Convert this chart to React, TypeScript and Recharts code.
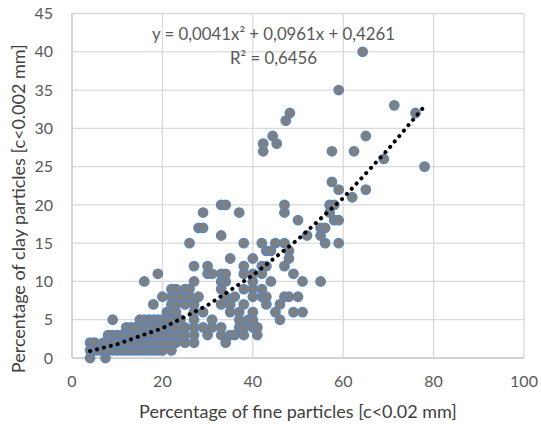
import React from "react";
import { ScatterChart, Scatter, XAxis, YAxis, CartesianGrid, Label } from "recharts";

// Fine-particle percentages, one list per clay percentage
const fineAtClay0 = [4, 7.4];
const fineAtClay1 = [4, 5, 6, 7, 8, 9, 10, 11, 12, 13, 14, 15, 16, 17, 18, 19, 20, 22];
const fineAtClay2 = [4, 5, 7, 8, 9, 10, 11, 12, 13, 14, 15, 16, 17, 18, 19, 20, 21, 23, 25, 27, 34];
const fineAtClay3 = [8, 9, 10, 11, 12, 13, 14, 15, 16, 17, 18, 19, 20, 21, 22, 23, 24, 25, 27, 30, 33, 35, 36, 38, 41];
const fineAtClay4 = [12, 13, 14, 16, 17, 18, 19, 20, 22, 23, 25, 27, 29, 31, 33, 37, 38, 40, 41];
const fineAtClay5 = [9, 15, 16, 17, 18, 19, 20, 21, 23, 24, 27, 31, 37, 39, 40, 46];
const fineAtClay6 = [21, 22, 23, 27, 29, 35, 37, 40, 45, 49, 51];
const fineAtClay7 = [18, 22, 23, 25, 27, 33, 35, 38, 43, 46];
const fineAtClay8 = [20, 22, 24, 26, 28, 34, 36, 40, 42, 43, 47, 48, 50];
const fineAtClay9 = [22, 23, 25, 26, 33, 38, 40, 42];
const fineAtClay10 = [16, 27, 33, 34, 40, 44, 51, 55];
const fineAtClay11 = [19, 30, 31, 33, 34, 38, 40, 42, 49];
const fineAtClay12 = [27, 30, 38, 42, 43, 47];
const fineAtClay13 = [35, 40, 48];
const fineAtClay14 = [43, 44, 48];
const fineAtClay15 = [26, 38, 42, 45, 47, 56, 59];
const fineAtClay16 = [33, 52, 55];
const fineAtClay17 = [28, 29, 55, 56];
const fineAtClay18 = [50, 58, 59];
const fineAtClay19 = [29, 37, 47, 57];
const fineAtClay20 = [33, 34, 47, 57, 58];
const fineAtClay21 = [62];
const fineAtClay22 = [59, 65];
const fineAtClay23 = [57.5];
const fineAtClay25 = [78];
const fineAtClay26 = [69];
const fineAtClay27 = [42.3, 57.5, 62.4];
const fineAtClay28 = [42.3, 45.3];
const fineAtClay29 = [44.4, 65];
const fineAtClay31 = [47.3];
const fineAtClay32 = [48.2, 76];
const fineAtClay33 = [71.3];
const fineAtClay35 = [59];
const fineAtClay40 = [64.3];

const bands: [number, number[]][] = [
  [0, fineAtClay0], [1, fineAtClay1], [2, fineAtClay2], [3, fineAtClay3], [4, fineAtClay4],
  [5, fineAtClay5], [6, fineAtClay6], [7, fineAtClay7], [8, fineAtClay8], [9, fineAtClay9],
  [10, fineAtClay10], [11, fineAtClay11], [12, fineAtClay12], [13, fineAtClay13], [14, fineAtClay14],
  [15, fineAtClay15], [16, fineAtClay16], [17, fineAtClay17], [18, fineAtClay18], [19, fineAtClay19],
  [20, fineAtClay20], [21, fineAtClay21], [22, fineAtClay22], [23, fineAtClay23], [25, fineAtClay25],
  [26, fineAtClay26], [27, fineAtClay27], [28, fineAtClay28], [29, fineAtClay29], [31, fineAtClay31],
  [32, fineAtClay32], [33, fineAtClay33], [35, fineAtClay35], [40, fineAtClay40],
];
const points = bands.flatMap(([y, xs]) => xs.map((x) => ({ x, y })));

// Trend line
const trendFine = [4, 10, 20, 30, 40, 50, 60, 70, 78];
const trendClay = [0.9, 1.8, 3.9, 6.9, 10.8, 15.5, 20.9, 27.3, 32.9];
const trend = trendFine.map((x, i) => ({ x, y: trendClay[i] }));

const xTicks = [0, 20, 40, 60, 80, 100];
const yTicks = [0, 5, 10, 15, 20, 25, 30, 35, 40, 45];
const equation = "y = 0,0041x² + 0,0961x + 0,4261";
const rSquared = "R² = 0,6456";
const xTitle = "Percentage of fine particles [c<0.02 mm]";
const yTitle = "Percentage of clay particles [c<0.002 mm]";

const FONT = "Lato, sans-serif";
const tick = { fill: "#595959", fontSize: 16, fontFamily: FONT };
const noShape = () => <g />;

export default function App() {
  return (
    <div style={{ position: "absolute", left: 0, top: 0, width: 541, height: 424, background: "#fff" }}>
      <ScatterChart width={541} height={424} margin={{ top: 13.5, right: 17, bottom: 0, left: 0 }}>
        <CartesianGrid stroke="#d9d9d9" strokeWidth={1.3} />
        <XAxis
          type="number"
          dataKey="x"
          domain={[0, 100]}
          ticks={xTicks}
          tick={tick}
          tickLine={false}
          axisLine={{ stroke: "#cfcfcf", strokeWidth: 1.5 }}
          tickMargin={12}
          height={66}
        >
          <Label value={xTitle} position="insideTop" offset={47} style={{ fill: "#404040", fontSize: 18, fontFamily: FONT }} />
        </XAxis>
        <YAxis
          type="number"
          dataKey="y"
          domain={[0, 45]}
          ticks={yTicks}
          tick={tick}
          tickLine={false}
          axisLine={{ stroke: "#cfcfcf", strokeWidth: 1.5 }}
          tickMargin={13}
          width={72}
        >
          <Label value={yTitle} angle={-90} position="insideLeft" offset={19} dy={23} style={{ textAnchor: "middle", fill: "#404040", fontSize: 18, fontFamily: FONT }} />
        </YAxis>
        <Scatter data={points} fill="#7f7f7f" stroke="#5b86bd" strokeWidth={1.4} shape={(p: any) => <circle cx={p.cx} cy={p.cy} r={4.7} fill="#7f7f7f" stroke="#5b86bd" strokeWidth={1.4} />} isAnimationActive={false} />
        <Scatter data={trend} line={{ stroke: "#000", strokeWidth: 4, strokeDasharray: "0.1 7", strokeLinecap: "round" }} shape={noShape} isAnimationActive={false} />
      </ScatterChart>
      <div style={{ position: "absolute", left: 0, top: 22, width: 547, textAlign: "center", fontFamily: FONT, fontSize: 16.8, lineHeight: "23.5px", color: "#595959" }}>
        {equation}
        <br />
        {rSquared}
      </div>
    </div>
  );
}
